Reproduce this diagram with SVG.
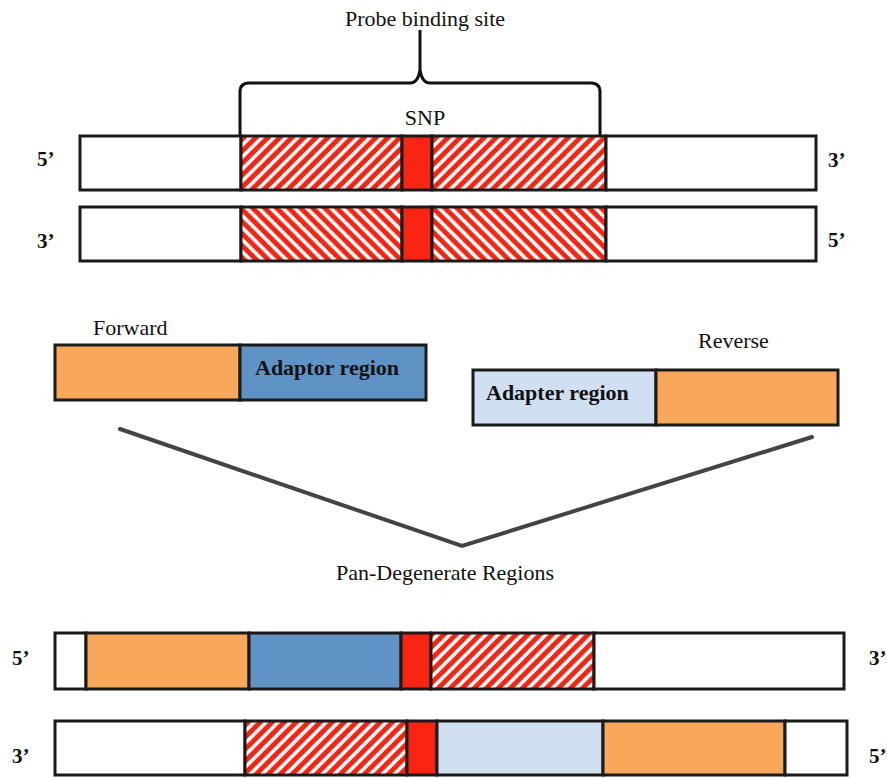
<svg xmlns="http://www.w3.org/2000/svg" width="887" height="778" viewBox="0 0 887 778">
<defs>
<pattern id="hatchF" patternUnits="userSpaceOnUse" width="8.5" height="8.5" patternTransform="rotate(45)">
<rect width="8.5" height="8.5" fill="#f92411"/>
<rect width="3.6" height="8.5" fill="#ffffff"/>
</pattern>
<pattern id="hatchB" patternUnits="userSpaceOnUse" width="8.5" height="8.5" patternTransform="rotate(-45)">
<rect width="8.5" height="8.5" fill="#f92411"/>
<rect width="3.6" height="8.5" fill="#ffffff"/>
</pattern>
</defs>
<style>
.seg{stroke:#1a1a1a;stroke-width:3}
.w{fill:#ffffff}
.hf{fill:url(#hatchF)}
.hb{fill:url(#hatchB)}
.red{fill:#f92411}
.org{fill:#f9a859}
.blu{fill:#5f93c6}
.lbl{fill:#d0e0f2}
.t{font-family:"Liberation Serif","Times New Roman",serif;font-size:22px;fill:#111}
.end{font-family:"Liberation Serif","Times New Roman",serif;font-size:21px;font-weight:bold;fill:#111}
.b{font-weight:bold}
.line{fill:none;stroke:#444;stroke-width:4;stroke-linecap:round;stroke-linejoin:miter}
</style>
<rect width="887" height="778" fill="#ffffff"/>

<g id="brace">
<path d="M240,136 L240,92 Q240,83 249,83 L410,83 Q418,83 420,70 L420,30 M420,70 Q422,83 430,83 L591,83 Q600,83 600,92 L600,136" fill="none" stroke="#111" stroke-width="3"/>
<text class="t" x="425" y="26" text-anchor="middle">Probe binding site</text>
<text class="t" x="425" y="125" text-anchor="middle">SNP</text>
</g>

<g id="strand1">
<rect class="seg w" x="80" y="136" width="161" height="54"/>
<rect class="seg hf" x="241" y="136" width="161" height="54"/>
<rect class="seg red" x="402" y="136" width="30" height="54"/>
<rect class="seg hf" x="432" y="136" width="174" height="54"/>
<rect class="seg w" x="606" y="136" width="210" height="54"/>
<text class="end" x="37" y="166">5’</text>
<text class="end" x="828" y="167">3’</text>
</g>

<g id="strand2">
<rect class="seg w" x="80" y="207" width="161" height="54"/>
<rect class="seg hb" x="241" y="207" width="161" height="54"/>
<rect class="seg red" x="402" y="207" width="30" height="54"/>
<rect class="seg hb" x="432" y="207" width="174" height="54"/>
<rect class="seg w" x="606" y="207" width="210" height="54"/>
<text class="end" x="37" y="248">3’</text>
<text class="end" x="828" y="247">5’</text>
</g>

<g id="forward">
<text class="t" x="93" y="335">Forward</text>
<rect class="seg org" x="55" y="345" width="185" height="55"/>
<rect class="seg blu" x="240" y="345" width="186" height="55"/>
<text class="t b" x="255" y="375">Adaptor region</text>
</g>

<g id="reverse">
<text class="t" x="698" y="348">Reverse</text>
<rect class="seg lbl" x="473" y="370" width="183" height="55"/>
<rect class="seg org" x="656" y="370" width="182" height="55"/>
<text class="t b" x="486" y="400">Adapter region</text>
</g>

<g id="connectors">
<polyline class="line" points="120,429 462,546 812,437"/>
</g>

<text class="t" x="445" y="580" text-anchor="middle">Pan-Degenerate Regions</text>

<g id="strand3">
<rect class="seg w" x="55" y="633" width="31" height="56"/>
<rect class="seg org" x="86" y="633" width="163" height="56"/>
<rect class="seg blu" x="249" y="633" width="152" height="56"/>
<rect class="seg red" x="401" y="633" width="30" height="56"/>
<rect class="seg hf" x="431" y="633" width="163" height="56"/>
<rect class="seg w" x="594" y="633" width="250" height="56"/>
<text class="end" x="12" y="665">5’</text>
<text class="end" x="869" y="665">3’</text>
</g>

<g id="strand4">
<rect class="seg w" x="55" y="721" width="190" height="54"/>
<rect class="seg hf" x="245" y="721" width="162" height="54"/>
<rect class="seg red" x="407" y="721" width="30" height="54"/>
<rect class="seg lbl" x="437" y="721" width="166" height="54"/>
<rect class="seg org" x="603" y="721" width="182" height="54"/>
<rect class="seg w" x="785" y="721" width="62" height="54"/>
<text class="end" x="12" y="763">3’</text>
<text class="end" x="869" y="763">5’</text>
</g>
</svg>
